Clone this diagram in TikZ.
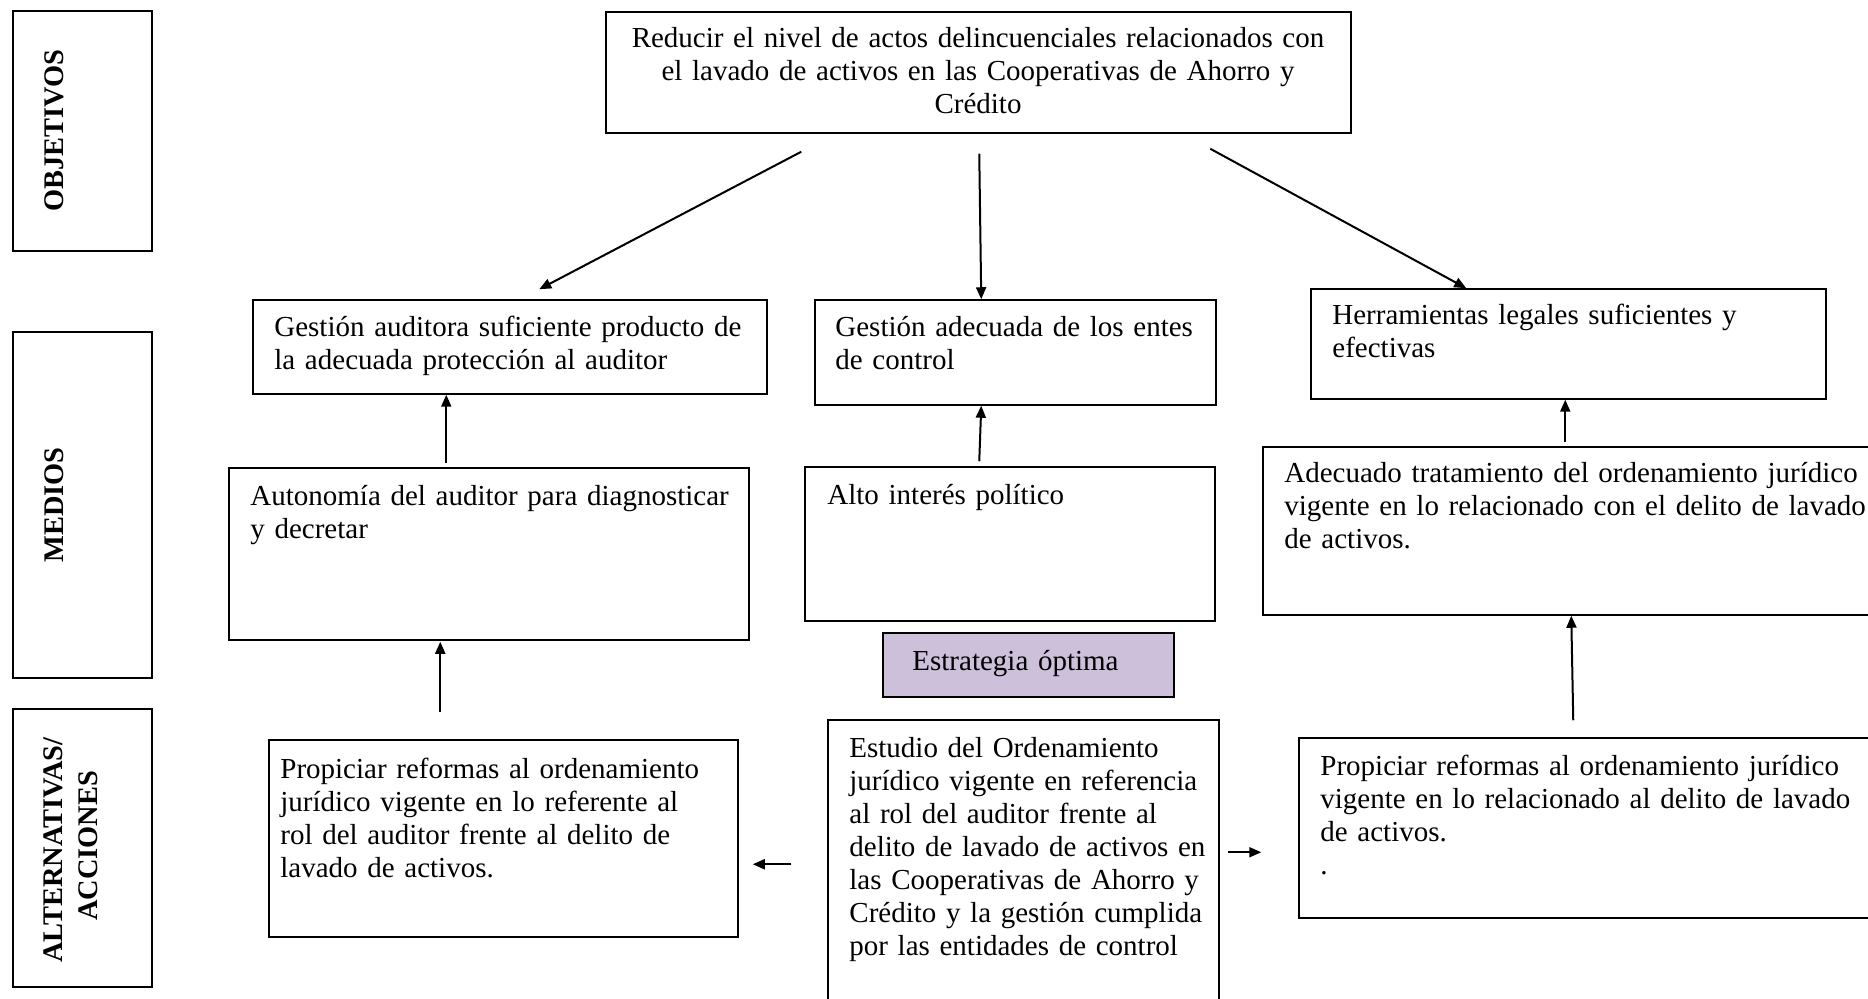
\documentclass[tikz,border=0pt]{standalone}
\usepackage{fontspec}
\setmainfont{Liberation Serif}
\usetikzlibrary{arrows.meta,fit}
\definecolor{lilac}{RGB}{204,192,218}
\begin{document}
\begin{tikzpicture}[x=0.5pt,y=-0.5pt,
  box/.style={draw,line width=0.75pt,inner sep=0pt},
  txt/.style={anchor=base west,inner sep=0pt,align=left,text width=320pt,
    font=\fontsize{14.5}{16.5}\selectfont},
  lbl/.style={anchor=base,inner sep=0pt,rotate=90,
    font=\fontsize{14.2}{16}\selectfont\bfseries},
  arr/.style={line width=1pt,-{Triangle[length=6pt,width=5pt]}}]
\clip (0,0) rectangle (1868,999);
\fill[white] (0,0) rectangle (1868,999);

% row labels
\node[box,fit={(13,11) (152,251)}] (obj) {};
\node[box,fit={(13,332) (152,678)}] (med) {};
\node[box,fit={(13,709) (152,987)}] (alt) {};
\node[lbl] (tobj) at (63,131) {OBJETIVOS};
\node[lbl] (tmed) at (63,505) {MEDIOS};
\node[lbl] (talt1) at (62,850) {ALTERNATIVAS/};
\node[lbl] (talt2) at (97,846) {ACCIONES};

% objective
\node[box,fit={(606,12) (1351,133)}] (top) {};
\node[anchor=base,inner sep=0pt,align=center,text width=360pt,
  font=\fontsize{14.5}{16.5}\selectfont] (ttop) at (978,48)
  {Reducir el nivel de actos delincuenciales relacionados con\\
   el lavado de activos en las Cooperativas de Ahorro y\\Crédito};

% means
\node[box,fit={(253,300) (767,394)}] (ga) {};
\node[txt] (tga) at (274,337) {Gestión auditora suficiente producto de\\la adecuada protección al auditor};
\node[box,fit={(815,300) (1216,405)}] (gd) {};
\node[txt] (tgd) at (835,337) {Gestión adecuada de los entes\\de control};
\node[box,fit={(1311,289) (1826,399)}] (he) {};
\node[txt] (the) at (1332,325) {Herramientas legales suficientes y\\efectivas};

\node[box,fit={(229,468) (749,640)}] (au) {};
\node[txt] (tau) at (250,506) {Autonomía del auditor para diagnosticar\\y decretar};
\node[box,fit={(805,467) (1215,621)}] (al) {};
\node[txt] (tal) at (827,505) {Alto interés político};
\node[box,fit={(1263,447) (1890,615)}] (ad) {};
\node[txt] (tad) at (1284,483) {Adecuado tratamiento del ordenamiento jurídico\\vigente en lo relacionado con el delito de lavado\\de activos.};

% optimal strategy
\node[box,fill=lilac,fit={(883,633) (1174,697)}] (es) {};
\node[txt] (tes) at (912,670) {Estrategia óptima};

% actions
\node[box,fit={(269,740) (738,937)}] (pl) {};
\node[txt] (tpl) at (280,778) {Propiciar reformas al ordenamiento\\jurídico vigente en lo referente al\\rol del auditor frente al delito de\\lavado de activos.};
\node[box,fit={(828,720) (1219,1020)}] (et) {};
\node[txt] (tet) at (849,757) {Estudio del Ordenamiento\\jurídico vigente en referencia\\al rol del auditor frente al\\delito de lavado de activos en\\las Cooperativas de Ahorro y\\Crédito y la gestión cumplida\\por las entidades de control};
\node[box,fit={(1299,738) (1890,918)}] (pr) {};
\node[txt] (tpr) at (1320,775) {Propiciar reformas al ordenamiento jurídico\\vigente en lo relacionado al delito de lavado\\de activos.\\.};

% connectors
\draw[arr] ([shift={(196,18)}]top.south west) -- ([shift={(287,-10)}]ga.north west);
\draw[arr] ([shift={(374,20)}]top.south west) -- ([shift={(167,0)}]gd.north west);
\draw[arr] ([shift={(605,15)}]top.south west) -- ([shift={(156,0)}]he.north west);
\draw[arr] ([shift={(218,-4)}]au.north west) -- ([shift={(194,0)}]ga.south west);
\draw[arr] ([shift={(172,-27)}]pl.north west) -- ([shift={(212,1)}]au.south west);
\draw[arr] ([shift={(175,-5)}]al.north west) -- ([shift={(167,0)}]gd.south west);
\draw[arr] ([shift={(303,-4)}]ad.north west) -- ([shift={(255,0)}]he.south west);
\draw[arr] ([shift={(275,-17)}]pr.north west) -- ([shift={(309,0)}]ad.south west);
\draw[arr] ([shift={(-36,145)}]et.north west) -- ([shift={(14,125)}]pl.north east);
\draw[arr] ([shift={(8,133)}]et.north east) -- ([shift={(-37,115)}]pr.north west);
\end{tikzpicture}
\end{document}
